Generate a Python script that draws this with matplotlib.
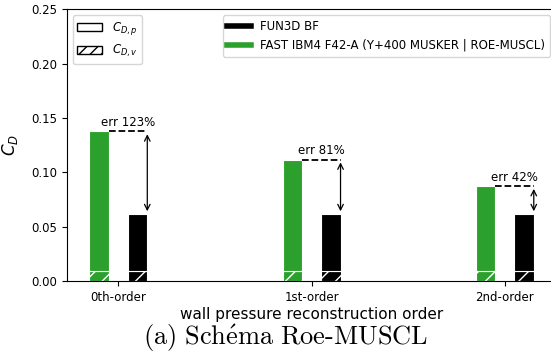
import matplotlib
matplotlib.use('Agg')
import matplotlib.pyplot as plt
import numpy as np
from matplotlib.patches import Patch
from matplotlib.lines import Line2D

# donnees
orders = ['0th-order', '1st-order', '2nd-order']
cd_fast = [0.1376, 0.1117, 0.0873]      # FAST IBM4, total
cd_fast_v = [0.0094, 0.0094, 0.0094]    # part visqueuse
cd_fun3d = [0.0616, 0.0616, 0.0616]     # FUN3D BF, total
cd_fun3d_v = [0.0094, 0.0094, 0.0094]
err_labels = ['err 123%', 'err 81%', 'err 42%']

green = '#2ca02c'
w = 0.1
x = np.arange(len(orders))

fig = plt.figure(figsize=(5.51, 3.63), dpi=100)
ax = fig.add_axes([66.7/551, 1-281/363, (556-66.7)/551, (281-9.3)/363])

fp = np.array(cd_fast) - np.array(cd_fast_v)
bp = np.array(cd_fun3d) - np.array(cd_fun3d_v)
# partie visqueuse (hachuree)
matplotlib.rcParams['hatch.color'] = 'white'
ax.bar(x-w, cd_fast_v, w, color=green, edgecolor='white', hatch='//', lw=0.8)
ax.bar(x+w, cd_fun3d_v, w, color='black', edgecolor='white', hatch='//', lw=0.8)
# partie pression
ax.bar(x-w, fp, w, bottom=cd_fast_v, color=green, edgecolor='white', lw=0.8)
ax.bar(x+w, bp, w, bottom=cd_fun3d_v, color='black', edgecolor='white', lw=0.8)

for i in range(len(orders)):
    ax.plot([x[i]-w/2, x[i]+1.5*w], [cd_fast[i], cd_fast[i]], 'k--', lw=1.3)
    ax.annotate('', xy=(x[i]+1.5*w, cd_fun3d[i]), xytext=(x[i]+1.5*w, cd_fast[i]),
                arrowprops=dict(arrowstyle='<->', color='k', lw=0.9))
    ax.text(x[i]+w/2, cd_fast[i]+0.002, err_labels[i], ha='center', va='bottom', fontsize=8.5)

ax.set_xlim(-0.267, 2.265)
ax.set_ylim(0, 0.25)
ax.set_xticks(x)
ax.set_xticklabels(orders)
ax.set_yticks(np.arange(0, 0.26, 0.05))
ax.yaxis.set_major_formatter(matplotlib.ticker.FormatStrFormatter('%.2f'))
ax.tick_params(labelsize=8.5)
ax.set_xlabel('wall pressure reconstruction order', fontsize=11, labelpad=2)
ax.set_ylabel('$C_D$', fontsize=12, labelpad=8)

h1 = [Patch(facecolor='white', edgecolor='black', label='$C_{D,p}$'),
      Patch(facecolor='white', edgecolor='black', hatch='///', label='$C_{D,v}$')]
leg1 = ax.legend(handles=h1, loc='upper left', fontsize=8.5, handlelength=2.1, handleheight=0.65)
ax.add_artist(leg1)
h2 = [Line2D([0], [0], color='black', lw=4, label='FUN3D BF'),
      Line2D([0], [0], color=green, lw=4, label='FAST IBM4 F42-A (Y+400 MUSKER | ROE-MUSCL)')]
ax.legend(handles=h2, loc='upper right', fontsize=8.5)

fig.text(0.519, 1-338/363, r'$\mathrm{(a)\ Sch\acute{e}ma\ Roe\text{-}MUSCL}$', ha='center', va='center',
         fontsize=19, math_fontfamily='cm')

fig.savefig('out.png', dpi=100)
